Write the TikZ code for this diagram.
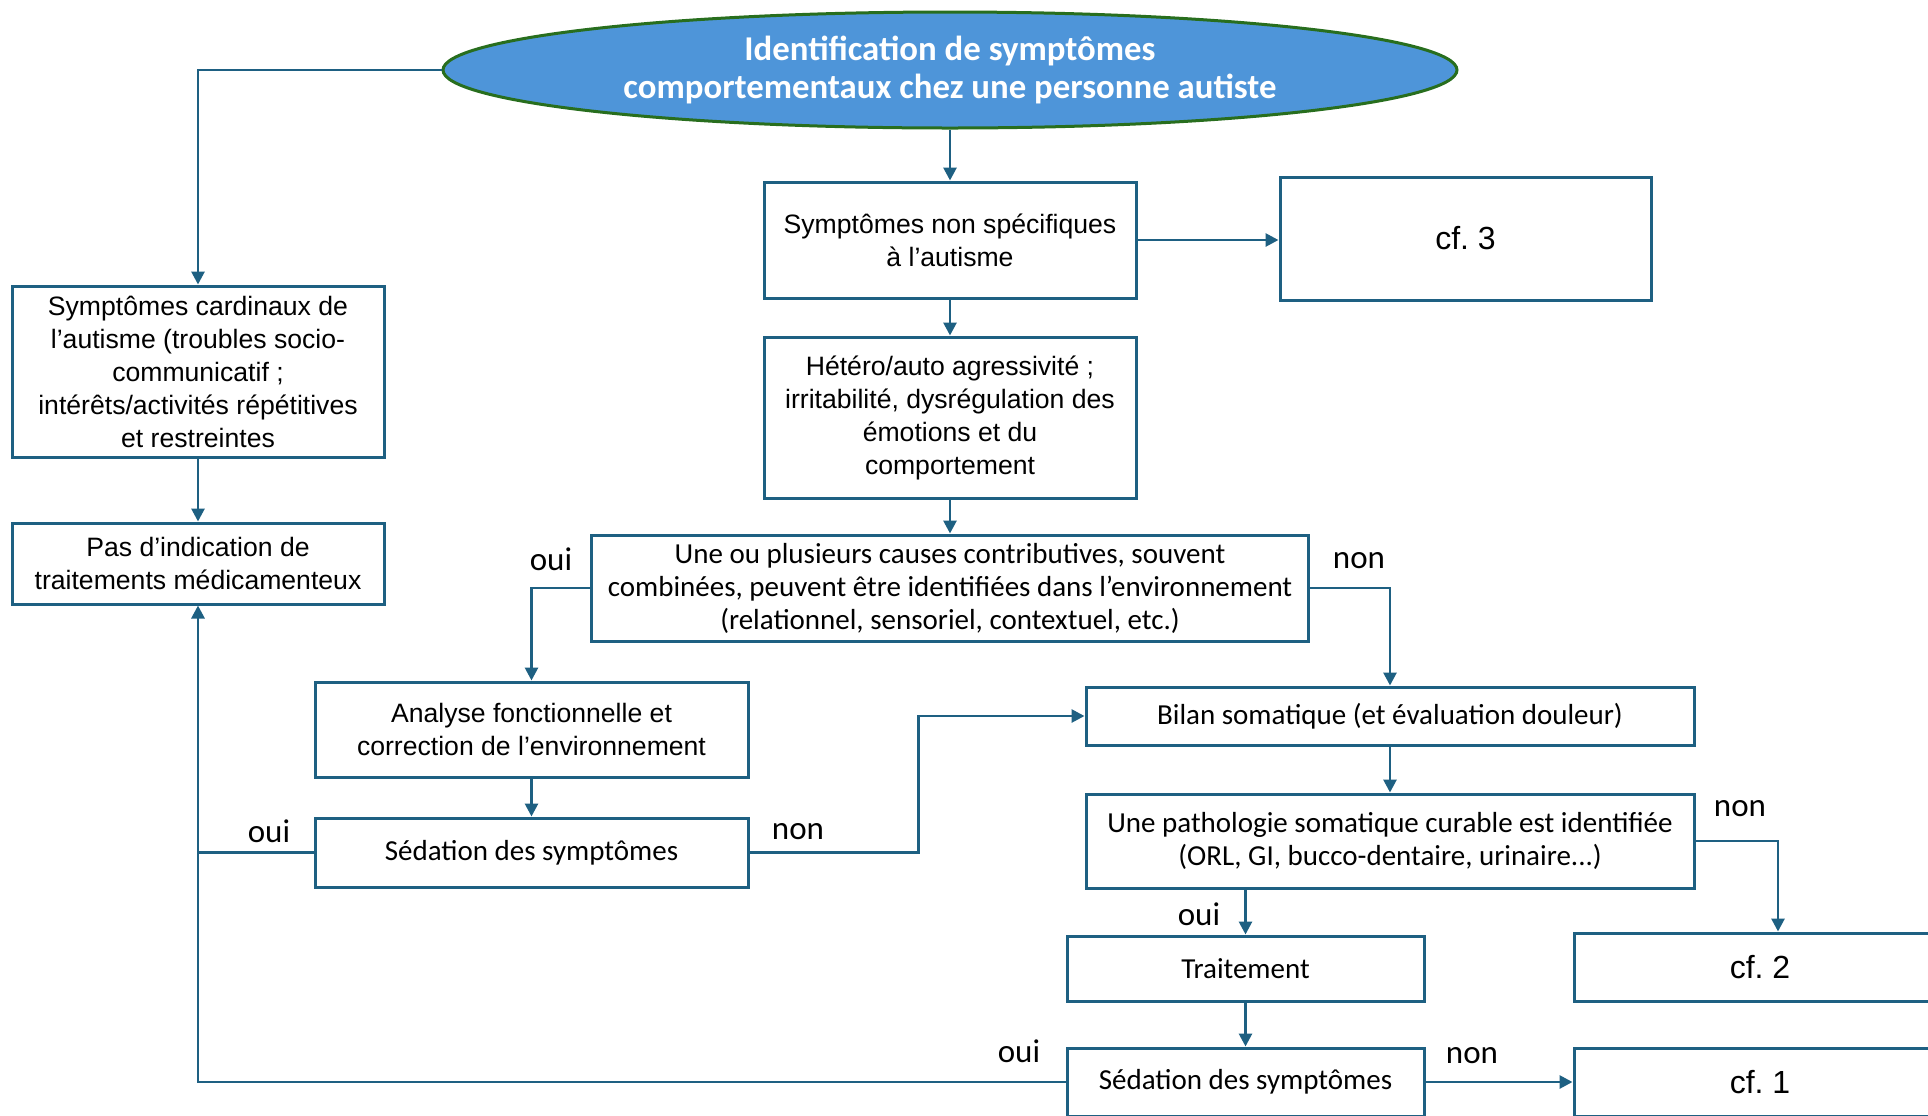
\documentclass[tikz,border=0pt]{standalone}
\usepackage{fontspec}
\setmainfont{Liberation Sans}
\newfontfamily\condfont{Carlito}
\usetikzlibrary{shapes.geometric,arrows.meta,positioning}
\definecolor{boxblue}{RGB}{30,96,130}
\definecolor{ellfill}{RGB}{78,149,217}
\definecolor{ellline}{RGB}{40,110,30}
\tikzset{
  boxnode/.style={draw=boxblue, line width=1.5pt, fill=white, inner sep=0pt, align=center,
    font=\fontsize{13.3}{16.5}\selectfont},
  condbox/.style={boxnode, font=\condfont\fontsize{14.5}{16.5}\selectfont},
  cfbox/.style={boxnode, font=\fontsize{16}{18}\selectfont},
  arr/.style={draw=boxblue, line width=1.4pt, -{Triangle[length=6.5pt,width=6.5pt]}},
  plain/.style={draw=boxblue, line width=1.4pt},
  lab/.style={font=\condfont\fontsize{16.5}{18}\selectfont, inner sep=0pt}
}
\frenchspacing
\begin{document}
\begin{tikzpicture}[x=0.5pt,y=-0.5pt]
\clip (0,0) rectangle (1928,1115);
\fill[white] (0,0) rectangle (1928,1115);

\node[ellipse, draw=ellline, line width=1.5pt, fill=ellfill, minimum width=507pt, minimum height=58pt,
  inner sep=0pt, text=white, align=center, font=\condfont\bfseries\fontsize{17.4}{19}\selectfont]
  (ell) at (950,70) {Identification de symptômes\\comportementaux chez une personne autiste};

\node[boxnode, minimum width=186pt, minimum height=58pt] (ns) at (950,240)
  {Symptômes non spécifiques\\à l’autisme};
\node[cfbox, minimum width=185.5pt, minimum height=61.5pt] (cf3) at (1465.5,238.5) {cf. 3};
\node[boxnode, minimum width=186pt, minimum height=80.5pt] (het) at (950,417.5)
  {Hétéro/auto agressivité ;\\irritabilité, dysrégulation des\\émotions et du\\comportement};
\node[condbox, minimum width=358.5pt, minimum height=53pt] (causes) at (950,588)
  {Une ou plusieurs causes contributives, souvent\\combinées, peuvent être identifiées dans l’environnement\\(relationnel, sensoriel, contextuel, etc.)};
\node[boxnode, minimum width=186pt, minimum height=85.5pt] (card) at (198,371.5)
  {Symptômes cardinaux de\\l’autisme (troubles socio-\\communicatif ;\\intérêts/activités répétitives\\et restreintes};
\node[boxnode, minimum width=186pt, minimum height=40.5pt] (pas) at (198,563.5)
  {Pas d’indication de\\traitements médicamenteux};
\node[boxnode, minimum width=216.5pt, minimum height=47.5pt] (ana) at (531.5,729.5)
  {Analyse fonctionnelle et\\correction de l’environnement};
\node[condbox, minimum width=216.5pt, minimum height=34.5pt] (sed1) at (531.5,852.5)
  {Sédation des symptômes};
\node[condbox, minimum width=304pt, minimum height=29pt] (bilan) at (1390,716)
  {Bilan somatique (et évaluation douleur)};
\node[condbox, minimum width=304pt, minimum height=47pt] (path) at (1390,841)
  {Une pathologie somatique curable est identifiée\\(ORL, GI, bucco-dentaire, urinaire...)};
\node[condbox, minimum width=178.5pt, minimum height=32.5pt] (trait) at (1245.5,968.5)
  {Traitement};
\node[cfbox, minimum width=186pt, minimum height=34pt] (cf2) at (1760,967) {cf. 2};
\node[condbox, minimum width=178.5pt, minimum height=34pt] (sed2) at (1245.5,1082)
  {Sédation des symptômes};
\node[cfbox, minimum width=186pt, minimum height=34pt] (cf1) at (1760,1082) {cf. 1};

% connectors
\draw[arr] (ell.south) -- (ns.north);
\draw[arr] (ell.west) -| (card.north);
\draw[arr] (ns.east) -- (ns.east -| cf3.west);
\draw[arr] (ns.south) -- (het.north);
\draw[arr] (het.south) -- (causes.north);
\draw[arr] (card.south) -- (pas.north);
\draw[arr] (causes.west) -| (ana.north);
\draw[arr] (causes.east) -| (bilan.north);
\draw[arr] (ana.south) -- (sed1.north);
\draw[arr] (sed1.west) -| (pas.south);
\draw[arr] (sed1.east) -- ++(169,0) |- (bilan.west);
\draw[arr] (bilan.south) -- (path.north);
\draw[arr] (trait.north |- path.south) -- (trait.north);
\draw[arr] (path.east) -| ([xshift=9pt]cf2.north);
\draw[arr] (trait.south) -- (sed2.north);
\draw[plain] (sed2.west) -| (sed1.west -| pas.south);
\draw[arr] (sed2.east) -- (cf1.west);

% labels
\node[lab] (l1) at (551,559) {oui};
\node[lab] (l2) at (1359,561) {non};
\node[lab] (l3) at (269,831) {oui};
\node[lab] (l4) at (798,832) {non};
\node[lab] (l5) at (1199,914) {oui};
\node[lab] (l6) at (1740,809) {non};
\node[lab] (l7) at (1019,1051) {oui};
\node[lab] (l8) at (1472,1056) {non};
\end{tikzpicture}
\end{document}
